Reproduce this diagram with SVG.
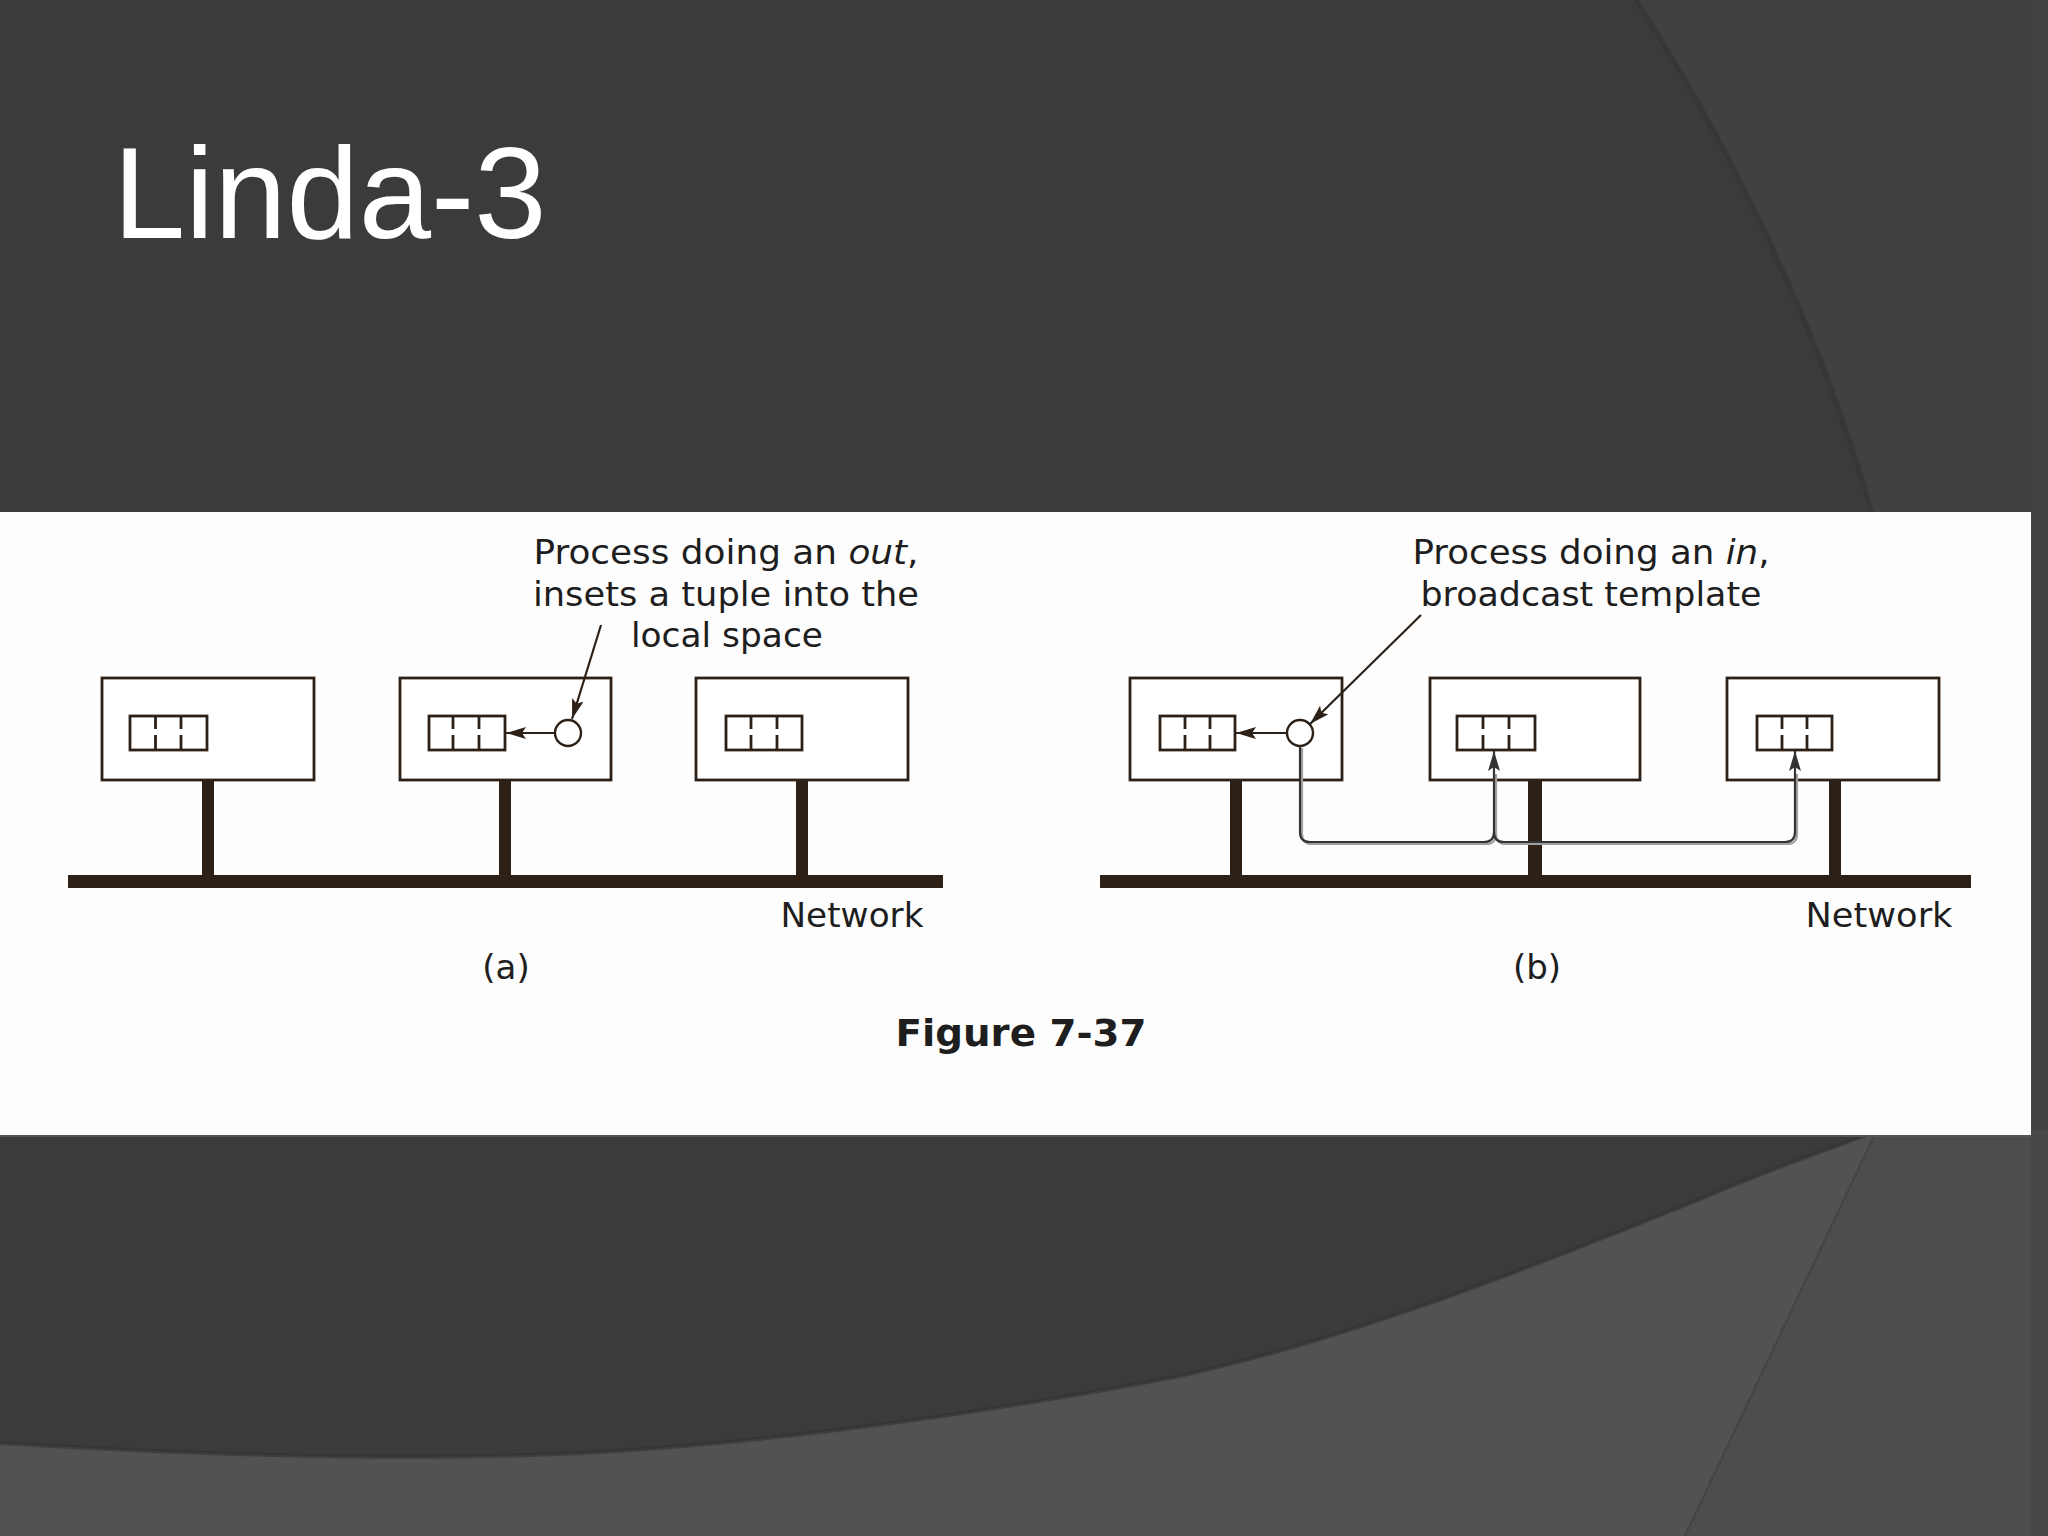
<svg xmlns="http://www.w3.org/2000/svg" width="2048" height="1536" viewBox="0 0 2048 1536">
  <style>
    .box { fill: #ffffff; stroke: #2d2117; stroke-width: 2.8; }
    .tup { fill: #ffffff; stroke: #2d2117; stroke-width: 2.8; }
    .div { stroke: #2d2117; stroke-width: 2.8; }
    .stem { fill: #2d2117; }
    .proc { fill: #ffffff; stroke: #2d2117; stroke-width: 2.4; }
    .lbl { font-family: "DejaVu Sans", Verdana, sans-serif; fill: #1e1e1e; }
    .ptr { stroke: #2d2117; stroke-width: 2.2; fill: none; }
    .bc { stroke: #333333; stroke-width: 2.2; fill: none; }
    .bcs { stroke: #a0a0a0; stroke-width: 2.2; fill: none; }
  </style>
  <defs>
    <marker id="ah" markerUnits="userSpaceOnUse" markerWidth="22" markerHeight="14" refX="20" refY="6" orient="auto">
      <path d="M0,0 L20,6 L0,12 L4,6 z" fill="#2d2117"/>
    </marker>
    <marker id="ahg" markerUnits="userSpaceOnUse" markerWidth="22" markerHeight="14" refX="20" refY="6" orient="auto">
      <path d="M0,0 L20,6 L0,12 L4,6 z" fill="#333333"/>
    </marker>
  </defs>

  <!-- background -->
  <rect x="0" y="0" width="2048" height="1536" fill="#3b3b3b"/>
  <path d="M1636,0 C1720,130 1820,320 1880,540 L1880,1140 L2048,1140 L2048,0 Z" fill="#414141"/>
  <path d="M1636,0 C1720,130 1820,320 1880,540" fill="none" stroke="#343434" stroke-width="5" opacity="0.7"/>
  <path d="M0,1443 C200,1455 420,1462 600,1452 C800,1440 1000,1410 1175,1377 C1350,1340 1550,1260 1698,1200 C1780,1165 1840,1145 1880,1130 L2048,1130 L2048,1536 L0,1536 Z" fill="#525154"/>
  <path d="M0,1443 C200,1455 420,1462 600,1452 C800,1440 1000,1410 1175,1377 C1350,1340 1550,1260 1698,1200 C1780,1165 1840,1145 1880,1130" fill="none" stroke="#333134" stroke-width="4" opacity="0.6"/>
  <polygon points="1874,1136 2048,1136 2048,1536 1685,1536" fill="#4d4c4e"/>
  <line x1="1874" y1="1136" x2="1685" y2="1536" stroke="#444345" stroke-width="2"/>
  <rect x="2031" y="0" width="17" height="1536" fill="#454446" opacity="0.6"/>

  <!-- title -->
  <text x="113" y="238" font-family="Liberation Sans, Arial, sans-serif" font-size="130" fill="#ffffff">Linda-3</text>

  <!-- figure panel -->
  <rect x="0" y="512" width="2031" height="624" fill="#fdfdfd"/>
  <line x1="0" y1="1136" x2="2031" y2="1136" stroke="#555" stroke-width="2"/>

  <!-- (a) -->
  <g id="net-a">
    <rect class="stem" x="68" y="875" width="875" height="13"/>
    <rect class="stem" x="202" y="776" width="12" height="100"/>
    <rect class="stem" x="499" y="776" width="12" height="100"/>
    <rect class="stem" x="796" y="776" width="12" height="100"/>
    <text class="lbl" x="852" y="927" font-size="34" text-anchor="middle" textLength="143" lengthAdjust="spacingAndGlyphs">Network</text>
  </g>
  <g id="a-m1">
    <rect class="box" x="102" y="678" width="212" height="102"/>
    <rect class="tup" x="130" y="716" width="77" height="34"/>
    <path class="div" d="M155.5,716 V729 M155.5,735 V750 M181,716 V729 M181,735 V750"/>
  </g>
  <g id="a-m2">
    <rect class="box" x="400" y="678" width="211" height="102"/>
    <rect class="tup" x="429" y="716" width="76" height="34"/>
    <path class="div" d="M453,716 V729 M453,735 V750 M479,716 V729 M479,735 V750"/>
    <circle class="proc" cx="568" cy="733" r="13"/>
  </g>
  <g id="a-m3">
    <rect class="box" x="696" y="678" width="212" height="102"/>
    <rect class="tup" x="726" y="716" width="76" height="34"/>
    <path class="div" d="M751,716 V729 M751,735 V750 M777,716 V729 M777,735 V750"/>
  </g>
  <g id="a-note">
    <text class="lbl" font-size="33">
      <tspan x="726" y="564" text-anchor="middle" textLength="385" lengthAdjust="spacingAndGlyphs">Process doing an <tspan font-style="italic">out</tspan>,</tspan>
    </text>
    <text class="lbl" x="726" y="606" font-size="33" text-anchor="middle" textLength="386" lengthAdjust="spacingAndGlyphs">insets a tuple into the</text>
    <text class="lbl" x="727" y="647" font-size="33" text-anchor="middle" textLength="192" lengthAdjust="spacingAndGlyphs">local space</text>
  </g>
  <text class="lbl" x="506" y="979" font-size="34" text-anchor="middle">(a)</text>

  <!-- (b) -->
  <g id="net-b">
    <rect class="stem" x="1100" y="875" width="871" height="13"/>
    <rect class="stem" x="1230" y="776" width="12" height="100"/>
    <rect class="stem" x="1528" y="776" width="14" height="100"/>
    <rect class="stem" x="1829" y="776" width="12" height="100"/>
    <text class="lbl" x="1879" y="927" font-size="34" text-anchor="middle" textLength="147" lengthAdjust="spacingAndGlyphs">Network</text>
  </g>
  <g id="b-m1">
    <rect class="box" x="1130" y="678" width="212" height="102"/>
    <rect class="tup" x="1160" y="716" width="75" height="34"/>
    <path class="div" d="M1185,716 V729 M1185,735 V750 M1210,716 V729 M1210,735 V750"/>
    <circle class="proc" cx="1300" cy="733" r="13"/>
  </g>
  <g id="b-m2">
    <rect class="box" x="1430" y="678" width="210" height="102"/>
    <rect class="tup" x="1457" y="716" width="78" height="34"/>
    <path class="div" d="M1483,716 V729 M1483,735 V750 M1509,716 V729 M1509,735 V750"/>
  </g>
  <g id="b-m3">
    <rect class="box" x="1727" y="678" width="212" height="102"/>
    <rect class="tup" x="1757" y="716" width="75" height="34"/>
    <path class="div" d="M1782,716 V729 M1782,735 V750 M1807,716 V729 M1807,735 V750"/>
  </g>
  <g id="b-note">
    <text class="lbl" font-size="33">
      <tspan x="1591" y="564" text-anchor="middle" textLength="357" lengthAdjust="spacingAndGlyphs">Process doing an <tspan font-style="italic">in</tspan>,</tspan>
    </text>
    <text class="lbl" x="1591" y="606" font-size="33" text-anchor="middle" textLength="341" lengthAdjust="spacingAndGlyphs">broadcast template</text>
  </g>
  <text class="lbl" x="1537" y="979" font-size="34" text-anchor="middle">(b)</text>

  <text class="lbl" x="1021" y="1046" font-size="38" font-weight="bold" text-anchor="middle" textLength="251" lengthAdjust="spacingAndGlyphs">Figure 7-37</text>

  <!-- connectors -->
  <g id="connectors">
    <line class="ptr" x1="555" y1="733" x2="506" y2="733" marker-end="url(#ah)"/>
    <line class="ptr" x1="601" y1="625" x2="572" y2="719" marker-end="url(#ah)"/>
    <line class="ptr" x1="1287" y1="733" x2="1236" y2="733" marker-end="url(#ah)"/>
    <line class="ptr" x1="1421" y1="615" x2="1310" y2="724" marker-end="url(#ah)"/>
    <g transform="translate(2,2)">
      <path class="bcs" d="M1300,746 V832 Q1300,842 1310,842 H1484 Q1494,842 1494,832 V772"/>
      <path class="bcs" d="M1494,832 Q1494,842 1504,842 H1785 Q1795,842 1795,832 V772"/>
    </g>
    <path class="bc" d="M1300,746 V832 Q1300,842 1310,842 H1484 Q1494,842 1494,832 V751" marker-end="url(#ahg)"/>
    <path class="bc" d="M1494,832 Q1494,842 1504,842 H1785 Q1795,842 1795,832 V751" marker-end="url(#ahg)"/>
  </g>
</svg>
